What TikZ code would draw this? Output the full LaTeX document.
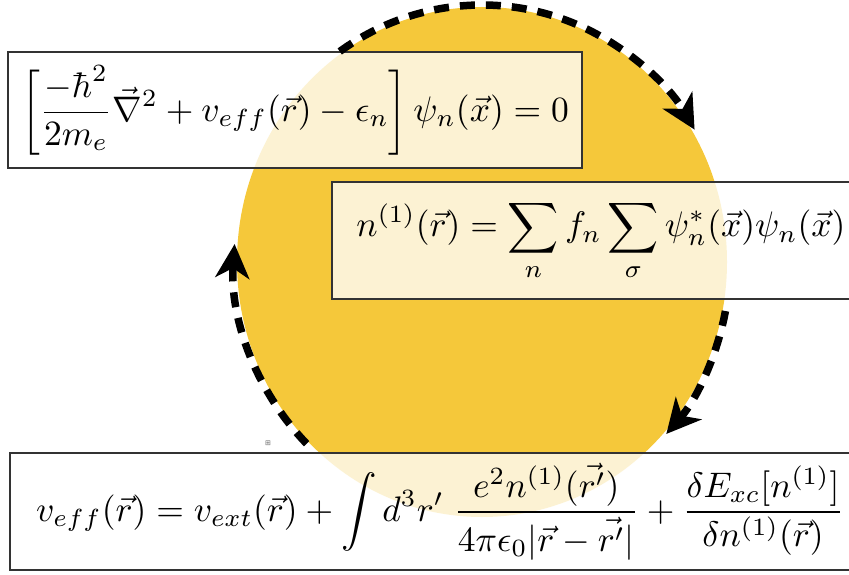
\documentclass[tikz,border=0pt]{standalone}
\usepackage{amsmath}
\usepackage{graphicx}
\usepackage{fontspec}
\newfontfamily\iconfont{DejaVu Sans}
\usetikzlibrary{arrows.meta,calc}
\definecolor{ksyellow}{RGB}{245,200,58}
\newcommand{\bigeq}[1]{\scalebox{3.55}{$\displaystyle #1$}}
\begin{document}
\begin{tikzpicture}[x=1pt, y=1pt,
  eqbox/.style={draw=black!80, line width=1.6pt, fill=white, fill opacity=0.78, text opacity=1, inner sep=0pt, outer sep=0pt},
  cyclearrow/.style={line width=7.5pt, dash pattern=on 15pt off 11pt, -{Stealth[length=34pt, width=34pt, inset=10pt]}}]
\useasboundingbox (0,0) rectangle (849,574);
% Self-consistent loop
\coordinate (c) at (482,312);
\fill[ksyellow] (c) ellipse [x radius=245pt, y radius=255pt];
% Equations
\node[eqbox, minimum width=574pt, minimum height=116pt] (hks) at (295,464)
  {\bigeq{\left[\frac{-\hbar^2}{2m_e}\vec{\nabla}^2+v_{eff}(\vec{r})-\epsilon_n\right]\psi_n(\vec{x})=0}};
\node[eqbox, minimum width=538pt, minimum height=117pt] (hdens) at (601,333.5)
  {\bigeq{n^{(1)}(\vec{r})=\sum_n f_n\sum_\sigma\psi_n^*(\vec{x})\psi_n(\vec{x})}\hspace{28pt}};
\node[eqbox, minimum width=860pt, minimum height=117pt] (hpot) at (440,62.5)
  {\bigeq{v_{eff}(\vec{r})=v_{ext}(\vec{r})+\int d^3r'\;\frac{e^2n^{(1)}(\vec{r'})}{4\pi\epsilon_0|\vec{r}-\vec{r'}|}+\frac{\delta E_{xc}[n^{(1)}]}{\delta n^{(1)}(\vec{r})}}\hspace{6pt}};
% Arrows round the circle
\coordinate (a1) at ($(c)+(125:248pt and 257pt)$);
\coordinate (a2) at ($(c)+(-11:248pt and 257pt)$);
\coordinate (a3) at ($(c)+(225:248pt and 257pt)$);
\draw[cyclearrow] (a1) arc[start angle=125, end angle=31, x radius=248pt, y radius=257pt];
\draw[cyclearrow] (a2) arc[start angle=-11, end angle=-42, x radius=248pt, y radius=257pt];
\draw[cyclearrow] (a3) arc[start angle=225, end angle=176, x radius=248pt, y radius=257pt];
\node[font=\iconfont\fontsize{7}{8}\selectfont, text=black!60, inner sep=0pt] (mark) at (268,131) {⊞};
\end{tikzpicture}
\end{document}
